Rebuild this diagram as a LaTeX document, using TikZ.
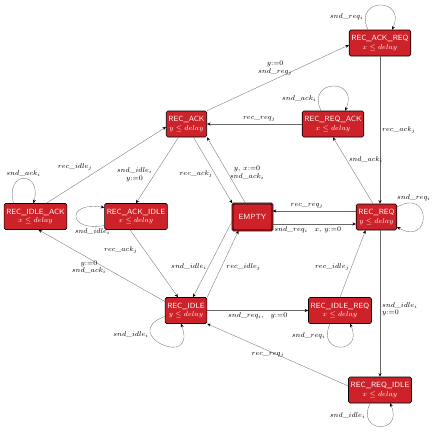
\documentclass[tikz,border=0pt]{standalone}
\usepackage{tikz}
\usetikzlibrary{arrows.meta}
\definecolor{locred}{RGB}{205,34,41}

\begin{document}
\begin{tikzpicture}[x=1pt,y=-1pt,->,>={Stealth[length=3.5pt,width=3pt,color=black]},line width=0.3pt,
  loc/.style={draw=black,line width=0.6pt,fill=locred,rounded corners=1.5pt,text=white,align=center,
    font=\sffamily\fontsize{7.5}{8.5}\selectfont,inner sep=2.2pt,minimum height=26pt},
  lbl/.style={font=\fontsize{7}{7.5}\selectfont,text=black,align=center,inner sep=2pt},
  every edge/.style={draw=black!60}]
  \useasboundingbox (0,0) rectangle (433,434);

  \node[loc] (ackreq)  at (380,43)    {REC\_ACK\_REQ\\$x\leq delay$};
  \node[loc] (ack)     at (186.5,124) {REC\_ACK\\$y\leq delay$};
  \node[loc] (reqack)  at (333,124)   {REC\_REQ\_ACK\\$x\leq delay$};
  \node[loc] (idleack) at (35.5,216.5) {REC\_IDLE\_ACK\\$x\leq delay$};
  \node[loc] (ackidle) at (136,216.5) {REC\_ACK\_IDLE\\$x\leq delay$};
  \node[loc,line width=0.5pt,double=locred!60!black,double distance=0.8pt,minimum width=40pt,minimum height=27pt]
             (empty)   at (252.5,217) {EMPTY};
  \node[loc] (req)     at (376.5,217) {REC\_REQ\\$y\leq delay$};
  \node[loc] (idle)    at (186,310.5) {REC\_IDLE\\$y\leq delay$};
  \node[loc] (idlereq) at (340,310.5) {REC\_IDLE\_REQ\\$x\leq delay$};
  \node[loc] (reqidle) at (380,390)   {REC\_REQ\_IDLE\\$x\leq delay$};

  \path (ack.north east) edge node[lbl,pos=.48,above=2pt] {$y{:=}0$\\$snd\_req_j$} ([yshift=-2pt]ackreq.west)
        ([xshift=-12pt]ackreq.north) edge[out=115,in=65,distance=36pt] node[lbl,pos=.15,left] {$snd\_req_i$} ([xshift=12pt]ackreq.north)
        (ackreq.south) edge node[lbl,right] {$rec\_ack_j$} ([xshift=3.5pt]req.north)
        (reqack.west) edge node[lbl,pos=.45,above] {$rec\_req_j$} (ack.east)
        ([xshift=-12pt]reqack.north) edge[out=115,in=65,distance=36pt] node[lbl,pos=.15,left] {$snd\_ack_i$} ([xshift=12pt]reqack.north)
        ([xshift=-3.5pt]req.north) edge node[lbl,pos=.66,right] {$snd\_ack_i$} (reqack.south)
        ([xshift=-8pt]ack.south) edge node[lbl,pos=.57,left] {$snd\_idle_i$\\$y{:=}0$} (ackidle.north)
        ([xshift=7pt]ack.south) edge node[lbl,pos=.55,left] {$rec\_ack_j$} (empty.north west)
        ([xshift=-7pt]empty.north) edge node[lbl,pos=.46,right] {$y,\,x{:=}0$\\$snd\_ack_i$} (ack.south east)
        ([xshift=11pt]idleack.north) edge node[lbl,pos=.4,above left] {$rec\_idle_j$} ([yshift=-3pt]ack.west)
        ([xshift=-22pt]idleack.north) edge[out=105,in=75,distance=34pt] node[lbl,above] {$snd\_ack_i$} ([xshift=-2pt]idleack.north)
        ([yshift=-9pt]ackidle.west) edge[out=190,in=170,distance=38pt] node[lbl,pos=.12,below] {$snd\_idle_i$} ([yshift=9pt]ackidle.west)
        ([xshift=-6pt]ackidle.south) edge node[lbl,pos=.3,left=5pt] {$rec\_ack_j$} ([xshift=-8pt]idle.north)
        ([yshift=-4pt]empty.west) edge node[lbl,pos=.6,left] {$snd\_idle_i$} ([xshift=7pt]idle.north)
        (idle.north east) edge node[lbl,pos=.45,right=3pt] {$rec\_idle_j$} ([xshift=-14pt]empty.south)
        ([yshift=9pt]idle.west) edge node[lbl,pos=.6,below] {$y{:=}0$\\$snd\_ack_i$} ([xshift=3pt]idleack.south)
        ([yshift=-6pt]idle.west) edge[out=200,in=-70,distance=50pt] node[lbl,pos=.3,left] {$snd\_idle_i$} ([xshift=-5pt]idle.south)
        (idle.east) edge node[lbl,below] {$snd\_req_i,\ \ y{:=}0$} (idlereq.west)
        ([xshift=-10pt]idlereq.south) edge[out=-115,in=-65,distance=34pt] node[lbl,pos=.15,left] {$snd\_req_i$} ([xshift=10pt]idlereq.south)
        (idlereq.north) edge node[lbl,pos=.45,left] {$rec\_idle_j$} ([xshift=-11pt]req.south)
        ([xshift=3.5pt]req.south) edge node[lbl,pos=.54,right,align=left] {$snd\_idle_i$\\$y{:=}0$} (reqidle.north)
        ([xshift=-10pt]reqidle.south) edge[out=-115,in=-65,distance=34pt] node[lbl,pos=.15,left] {$snd\_idle_i$} ([xshift=10pt]reqidle.south)
        ([yshift=4pt]reqidle.west) edge node[lbl,pos=.57,below] {$rec\_req_j$} (idle.south east)
        ([yshift=10pt]req.east) edge[out=30,in=-30,distance=40pt] node[lbl,pos=.2,above] {$snd\_req_i$} ([yshift=-10pt]req.east)
        ([yshift=6pt]req.west) edge node[lbl,pos=.59,above] {$rec\_req_j$} ([yshift=6pt]empty.east)
        ([yshift=-7pt]empty.east) edge node[lbl,pos=.42,below] {$snd\_req_i$\quad$x,\,y{:=}0$} ([yshift=-7pt]req.west);
\end{tikzpicture}
\end{document}
